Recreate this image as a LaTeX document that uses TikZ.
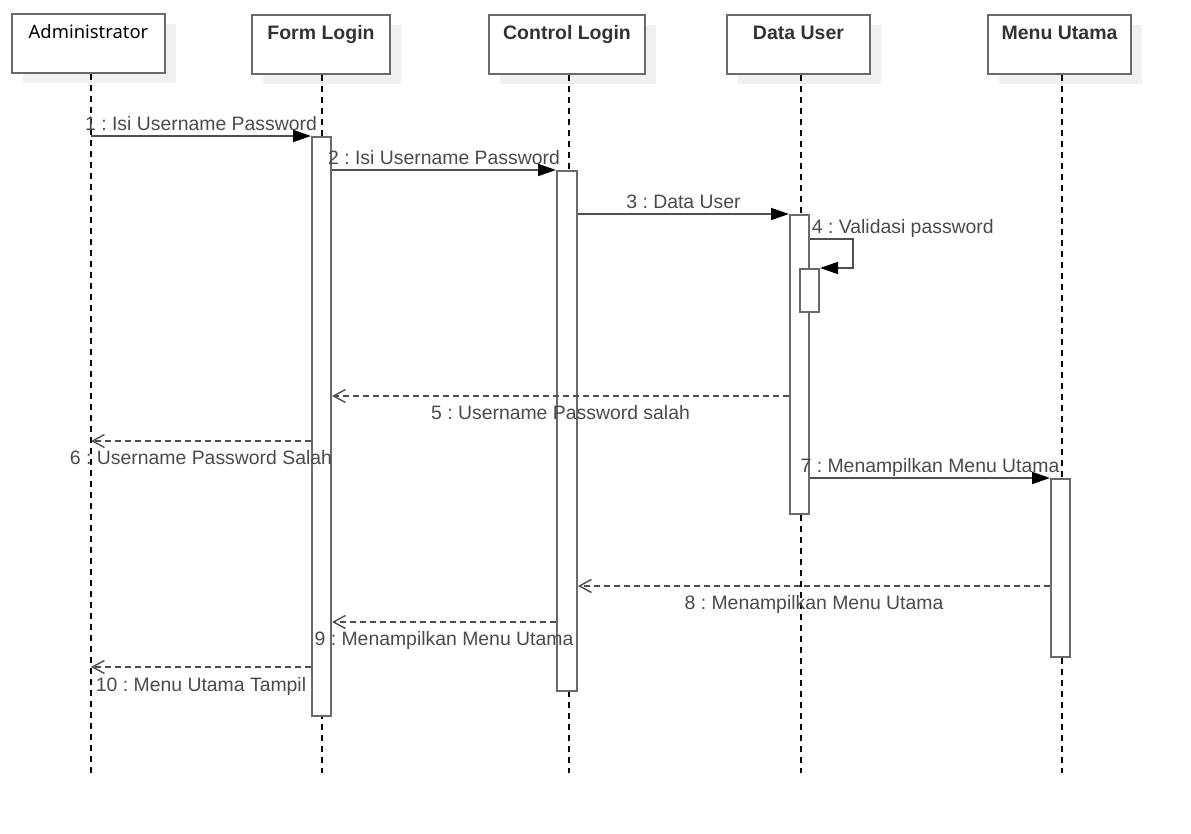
\documentclass[tikz,border=0pt]{standalone}
\usepackage{fontspec}
\setmainfont{Liberation Sans}
\newfontfamily\adminfont{Noto Sans}
\usetikzlibrary{arrows.meta,shadows}
\definecolor{msggrey}{HTML}{4F4F4F}
\definecolor{boxgrey}{HTML}{6A6A6A}
\definecolor{textgrey}{HTML}{4A4A4A}
\definecolor{shadegrey}{HTML}{F0F0F0}
\newcommand\msgfont{\fontsize{9.7}{11}\selectfont}
\frenchspacing

\begin{document}
\begin{tikzpicture}
[x=0.5pt,y=-0.5pt,
headbox/.style={draw=boxgrey,line width=1pt,fill=white,anchor=north,minimum height=29.5pt,text height=8.5pt,text depth=13.5pt,inner sep=0pt,text=black!80,font=\fontsize{9.75}{11}\selectfont\bfseries,drop shadow={shadow xshift=5.5pt,shadow yshift=-5pt,fill=shadegrey,opacity=1}},
lifeline/.style={black,line width=0.7pt,dash pattern=on 3pt off 2.5pt},
actbar/.style={draw=boxgrey,line width=1pt,fill=white,anchor=north,inner sep=0pt,minimum width=9.5pt},
callline/.style={msggrey,line width=0.9pt,-{Triangle[length=9pt,width=6pt,fill=black,color=black]}},
returnline/.style={msggrey,line width=0.8pt,dash pattern=on 3pt off 2pt,-{Straight Barb[length=6pt,width=6.5pt,line width=0.7pt]}},
msgabove/.style={anchor=base,yshift=2.5pt,inner sep=0pt,text=textgrey,font=\msgfont},
msgbelow/.style={anchor=base,yshift=-12pt,inner sep=0pt,text=textgrey,font=\msgfont}]

\useasboundingbox (0,0) rectangle (1191,834);

% heads
\node[headbox,minimum width=76.5pt,font=\adminfont\fontsize{9.2}{11}\selectfont,text=black] (admin) at (88.5,13) {Administrator};
\node[headbox,minimum width=69pt] (form) at (321,14) {Form Login};
\node[headbox,minimum width=78pt] (ctrl) at (567,14) {Control Login};
\node[headbox,minimum width=71.5pt] (data) at (798.5,14) {Data User};
\node[headbox,minimum width=71.5pt] (menu) at (1059.5,14) {Menu Utama};

% lifelines
\coordinate (adminEnd) at (91,773);
\coordinate (formEnd) at (322,773);
\coordinate (ctrlEnd) at (569,773);
\coordinate (dataEnd) at (801,773);
\coordinate (menuEnd) at (1062,773);
\draw[lifeline] (adminEnd |- admin.south) -- (adminEnd);
\draw[lifeline] (formEnd |- form.south) -- (formEnd);
\draw[lifeline] (ctrlEnd |- ctrl.south) -- (ctrlEnd);
\draw[lifeline] (dataEnd |- data.south) -- (dataEnd);
\draw[lifeline] (menuEnd |- menu.south) -- (menuEnd);

% activation bars
\node[actbar,minimum height=289.5pt] (formbar) at (321.5,136) {};
\node[actbar,minimum height=260pt,minimum width=10pt] (ctrlbar) at (567,170) {};
\node[actbar,minimum height=149.5pt] (databar) at (799.5,214) {};
\node[actbar,minimum height=21.5pt] (selfbar) at (809.5,268) {};
\node[actbar,minimum height=89pt] (menubar) at (1060.5,478) {};

% message rows
\coordinate (r1) at (0,136);
\coordinate (r2) at (0,170);
\coordinate (r3) at (0,214);
\coordinate (r4) at (0,239);
\coordinate (r5) at (0,396);
\coordinate (r6) at (0,441);
\coordinate (r7) at (0,478);
\coordinate (r8) at (0,586);
\coordinate (r9) at (0,622);
\coordinate (r10) at (0,667);
\coordinate (selfturn) at (853,268);

% calls
\draw[callline] (adminEnd |- r1) -- node[msgabove] {1 : Isi Username Password} (formbar.north west);
\draw[callline] (formbar.east |- r2) -- node[msgabove] {2 : Isi Username Password} (ctrlbar.north west);
\draw[callline] (ctrlbar.east |- r3) -- node[msgabove] {3 : Data User} (databar.north west);
\draw[callline] (databar.east |- r4) node[msgabove,anchor=base west,xshift=0.5pt] {4 : Validasi password} -| (selfturn) -- (selfbar.north east);
\draw[callline] (databar.east |- r7) -- node[msgabove] {7 : Menampilkan Menu Utama} (menubar.north west);

% returns
\draw[returnline] (databar.west |- r5) -- node[msgbelow] {5 : Username Password salah} (formbar.east |- r5);
\draw[returnline] (formbar.west |- r6) -- node[msgbelow] {6 : Username Password Salah} (adminEnd |- r6);
\draw[returnline] (menubar.west |- r8) -- node[msgbelow] {8 : Menampilkan Menu Utama} (ctrlbar.east |- r8);
\draw[returnline] (ctrlbar.west |- r9) -- node[msgbelow] {9 : Menampilkan Menu Utama} (formbar.east |- r9);
\draw[returnline] (formbar.west |- r10) -- node[msgbelow] {10 : Menu Utama Tampil} (adminEnd |- r10);

\end{tikzpicture}
\end{document}
